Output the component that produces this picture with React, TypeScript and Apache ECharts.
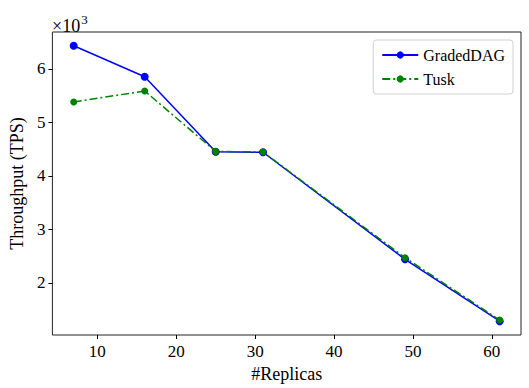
import React, { useEffect, useRef } from "react";
import * as echarts from "echarts";

const replicas = [7, 16, 25, 31, 49, 61];
const gradedDAG = [6430, 5850, 4450, 4440, 2440, 1283];
const tusk = [5380, 5585, 4455, 4445, 2470, 1305];
const xTicks = [10, 20, 30, 40, 50, 60];
const yTicks = [2000, 3000, 4000, 5000, 6000];

const FONT = "'Liberation Serif', 'Times New Roman', serif";

export default function App() {
  const ref = useRef<HTMLDivElement>(null);
  useEffect(() => {
    if (!ref.current) return;
    const chart = echarts.init(ref.current, undefined, { renderer: "svg" });
    const xMin = 4.3, xMax = 63.7;
    const yMin = 1026, yMax = 6687;
    chart.setOption({
      animation: false,
      backgroundColor: "#fff",
      textStyle: { fontFamily: FONT },
      title: {
        text: "{a|×10}{b|3}",
        left: 47,
        top: 8,
        textStyle: {
          fontFamily: FONT,
          fontWeight: "normal",
          fontSize: 18,
          color: "#000",
          rich: {
            a: { fontFamily: FONT, fontWeight: "normal", fontSize: 18, color: "#000", lineHeight: 22, verticalAlign: "bottom" },
            b: { fontFamily: FONT, fontWeight: "normal", fontSize: 13, color: "#000", lineHeight: 13, verticalAlign: "top", padding: [0, 0, 0, 1] },
          },
        },
      },
      grid: {
        left: 52, right: 8, top: 32, bottom: 51,
        show: true, borderColor: "#222", borderWidth: 1, backgroundColor: "transparent",
      },
      legend: {
        orient: "vertical",
        right: 16,
        top: 40,
        padding: [7, 8, 7, 8],
        itemGap: 8,
        itemWidth: 36,
        itemHeight: 9,
        borderColor: "#d0d0d0",
        borderWidth: 1,
        borderRadius: 3,
        backgroundColor: "rgba(255,255,255,0.8)",
        textStyle: { fontFamily: FONT, fontSize: 16, color: "#000", fontWeight: "normal" },
        data: ["GradedDAG", "Tusk"],
      },
      xAxis: {
        type: "value",
        min: xMin,
        max: xMax,
        name: "#Replicas",
        nameLocation: "middle",
        nameGap: 30,
        nameTextStyle: { fontFamily: FONT, fontSize: 18, color: "#000" },
        axisLine: { show: false },
        splitLine: { show: false },
        axisTick: { show: true, length: 4, lineStyle: { color: "#000" }, customValues: xTicks },
        axisLabel: { fontFamily: FONT, fontSize: 17, color: "#000", margin: 8, customValues: xTicks },
      },
      yAxis: {
        type: "value",
        min: yMin,
        max: yMax,
        name: "Throughput (TPS)",
        nameLocation: "middle",
        nameRotate: 90,
        nameGap: 20,
        nameTextStyle: { fontFamily: FONT, fontSize: 18, color: "#000" },
        axisLine: { show: false },
        splitLine: { show: false },
        axisTick: { show: true, length: 4, lineStyle: { color: "#000" }, customValues: yTicks },
        axisLabel: {
          fontFamily: FONT, fontSize: 17, color: "#000", margin: 7,
          customValues: yTicks,
          formatter: (v: number) => String(Math.round(v / 1000)),
        },
      },
      series: [
        {
          name: "GradedDAG",
          type: "line",
          data: replicas.map((x, i) => [x, gradedDAG[i]]),
          symbol: "circle",
          symbolSize: 8,
          itemStyle: { color: "#0000ff" },
          lineStyle: { color: "#0000ff", width: 1.5, type: "solid" },
        },
        {
          name: "Tusk",
          type: "line",
          data: replicas.map((x, i) => [x, tusk[i]]),
          symbol: "circle",
          symbolSize: 7,
          itemStyle: { color: "#008000" },
          lineStyle: { color: "#008000", width: 1.5, type: [8, 3, 2, 3] },
        },
      ],
    });
    return () => chart.dispose();
  }, []);
  return <div ref={ref} style={{ width: 529, height: 388, position: "absolute", left: 0, top: 0 }} />;
}
